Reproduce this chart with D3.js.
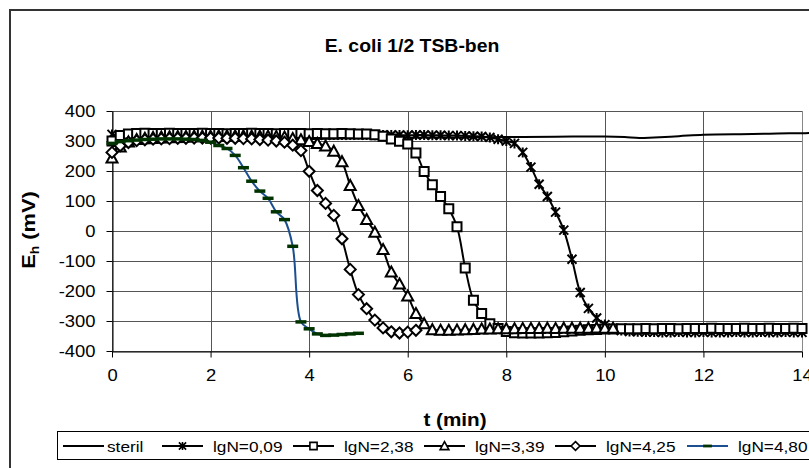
<!DOCTYPE html>
<html>
<head>
<meta charset="utf-8">
<script src="https://cdn.jsdelivr.net/npm/d3@7"></script>
<style>
body { margin: 0; background: #fff; }
text { font-family: "Liberation Sans", Arial, sans-serif; fill: #000; }
</style>
</head>
<body>
<script>

// sample times (seconds), one reading every 10 s
var tSec = [0,10,20,30,40,50,60,70,80,90,100,110,120,130,140,150,160,170,180,190,
	200,210,220,230,240,250,260,270,280,290,300,310,320,330,340,350,360,370,380,390,
	400,410,420,430,440,450,460,470,480,490,500,510,520,530,540,550,560,570,580,590,
	600,610,620,630,640,650,660,670,680,690,700,710,720,730,740,750,760,770,780,790,
	800,810,820,830,840];

// steril has no markers, read at fewer points (minutes)
var sterilT = [0, 0.5, 1, 1.5, 2, 3, 4, 5, 6, 7, 8, 9, 9.5, 10, 10.4, 10.7, 11, 11.5, 12, 13, 13.5, 14, 14.15];
var sterilV = [283, 290, 294, 297, 300, 304, 307, 309, 311, 312, 313, 314, 315, 315, 313, 310, 312, 316, 321, 323, 325, 326, 327];

var lgN009 = [322,318,320,321,320,319,320,321,320,320,
	319,320,321,320,320,319,320,320,321,320,
	320,319,320,320,321,320,319,320,320,320,
	321,320,319,320,320,320,319,320,320,319,
	319,318,318,317,316,315,312,306,300,292,
	262,213,156,115,63,3,-94,-205,-258,-290,
	-312,-325,-332,-335,-336,-337,-337,-338,-338,-337,
	-338,-338,-337,-338,-338,-338,-337,-338,-338,-337,
	-338,-338,-337,-338,-338];

var lgN238 = [300,318,323,325,326,325,325,326,325,325,
	325,326,325,325,324,325,325,326,325,325,
	324,325,325,325,324,325,324,324,325,324,
	323,323,321,316,307,299,290,260,198,154,
	115,74,14,-123,-231,-275,-309,-325,-335,-339,
	-340,-340,-340,-339,-338,-336,-333,-331,-329,-328,
	-327,-327,-326,-326,-326,-325,-326,-325,-325,-326,
	-325,-325,-325,-324,-325,-325,-325,-324,-325,-325,
	-324,-325,-325,-324,-325];

var lgN339 = [243,280,297,305,309,312,313,314,315,315,
	316,316,316,317,317,317,317,316,316,316,
	315,313,308,304,298,292,283,266,231,152,
	85,38,-4,-62,-137,-177,-217,-275,-309,-329,
	-331,-331,-330,-329,-328,-327,-327,-326,-326,-326,
	-325,-325,-325,-324,-325,-324,-324,-324,-324,-323,
	-324,-324];

var lgN425 = [262,284,295,301,304,306,307,308,309,309,
	310,310,310,310,309,309,308,307,305,303,
	300,296,286,268,199,135,92,52,-26,-128,
	-212,-259,-297,-323,-336,-340,-337,-331];

var lgN480 = [292,298,301,303,305,306,307,307,307,306,
	305,302,296,285,275,252,211,166,133,109,
	64,38,-51,-303,-326,-343,-348,-347,-345,-343,
	-341];

var seriesNames = ["lgN=0,09", "lgN=2,38", "lgN=3,39", "lgN=4,25", "lgN=4,80"];
var seriesValues = [lgN009, lgN238, lgN339, lgN425, lgN480];
var seriesMarker = ["star", "square", "triangle", "diamond", "dash"];

var xTicks = [0, 2, 4, 6, 8, 10, 12, 14];
var yTicks = [-400, -300, -200, -100, 0, 100, 200, 300, 400];

var w = 809;
var h = 468;
var sx = 1.15; // wide glyphs, as in the original

var svg = d3.select("body")
	.append("svg")
	.attr("width", w)
	.attr("height", h);

// chart frame
svg.append("rect")
	.attr("x", 10).attr("y", 10)
	.attr("width", 830).attr("height", 490)
	.attr("fill", "none")
	.attr("stroke", "#333")
	.attr("stroke-width", 2);

var x = d3.scaleLinear().domain([0, 14]).range([112, 802]);
var y = d3.scaleLinear().domain([-400, 400]).range([351, 111]);

// gridlines
svg.append("g")
	.selectAll("line")
	.data(yTicks)
	.enter()
	.append("line")
	.attr("x1", x(0)).attr("x2", x(14))
	.attr("y1", function(d) { return Math.round(y(d)) + 0.5; })
	.attr("y2", function(d) { return Math.round(y(d)) + 0.5; })
	.attr("stroke", "#555");

svg.append("g")
	.selectAll("line")
	.data(xTicks)
	.enter()
	.append("line")
	.attr("y1", y(400)).attr("y2", y(-400))
	.attr("x1", function(d) { return Math.round(x(d)) + 0.5; })
	.attr("x2", function(d) { return Math.round(x(d)) + 0.5; })
	.attr("stroke", function(d) { return d == 14 ? "#888" : "#555"; });

// axes
var yAxis = svg.append("g")
	.attr("transform", "translate(" + (Math.round(x(0)) + 0.5) + ",0)")
	.call(d3.axisLeft(y).tickValues(yTicks).tickSize(6).tickSizeOuter(0)
		.tickFormat(function(d) { return String(d); }));

yAxis.selectAll("text")
	.attr("x", -17 / sx)
	.attr("transform", "scale(" + sx + ",1)")
	.attr("font-size", "16px");

var xAxis = svg.append("g")
	.attr("transform", "translate(0," + (Math.round(y(-400)) + 0.5) + ")")
	.call(d3.axisBottom(x).tickValues(xTicks).tickSize(6).tickSizeOuter(0).tickPadding(12));

xAxis.selectAll("text")
	.attr("transform", "scale(" + sx + ",1)")
	.attr("font-size", "16px");

svg.selectAll(".domain, .tick line").attr("stroke", "#000");

// lines
var line = d3.line()
	.defined(function(d) { return d[1] != null; })
	.x(function(d) { return x(d[0]); })
	.y(function(d) { return y(d[1]); })
	.curve(d3.curveCatmullRom);

var markerPaths = {
	star: "M-4.5,-4.5L4.5,4.5M-4.5,4.5L4.5,-4.5M0,-5L0,5",
	square: "M-4.5,-4.5H4.5V4.5H-4.5Z",
	triangle: "M0,-5.5L5.5,4.5H-5.5Z",
	diamond: "M0,-5.5L5.5,0L0,5.5L-5.5,0Z",
	dash: "M-5.5,0H5.5"
};

function drawMarker(g, type) {
	if (type == "dash") {
		g.append("path").attr("d", markerPaths.dash)
			.attr("stroke", "#003300").attr("stroke-width", 3.5);
	} else {
		g.append("path").attr("d", markerPaths[type])
			.attr("fill", type == "star" ? "none" : "#fff")
			.attr("stroke", "#000")
			.attr("stroke-width", 2);
	}
}

var sterilPts = sterilT.map(function(t, i) { return [t, sterilV[i]]; });

svg.append("path")
	.datum(sterilPts)
	.attr("d", line)
	.attr("fill", "none")
	.attr("stroke", "#000")
	.attr("stroke-width", 2);

seriesValues.forEach(function(vals, s) {
	var pts = vals.map(function(v, i) { return [tSec[i] / 60, v]; });
	var isGreen = seriesMarker[s] == "dash";

	svg.append("path")
		.datum(pts)
		.attr("d", line)
		.attr("fill", "none")
		.attr("stroke", isGreen ? "#1b4f8f" : "#000")
		.attr("stroke-width", 2);

	var mg = svg.append("g");
	mg.selectAll("g")
		.data(pts)
		.enter()
		.append("g")
		.attr("transform", function(d) { return "translate(" + x(d[0]) + "," + y(d[1]) + ")"; })
		.each(function() { drawMarker(d3.select(this), seriesMarker[s]); });
});

// title
svg.append("text")
	.attr("transform", "translate(412,52) scale(1.05,1)")
	.attr("text-anchor", "middle")
	.attr("font-size", "18.5px")
	.attr("font-weight", "bold")
	.text("E. coli 1/2 TSB-ben");

// axis titles
svg.append("text")
	.attr("transform", "translate(455,426) scale(" + sx + ",1)")
	.attr("text-anchor", "middle")
	.attr("font-size", "18px")
	.attr("font-weight", "bold")
	.text("t (min)");

var yt = svg.append("text")
	.attr("transform", "translate(35,230) rotate(-90) scale(" + sx + ",1)")
	.attr("text-anchor", "middle")
	.attr("font-size", "19px")
	.attr("font-weight", "bold");
yt.append("tspan").text("E");
yt.append("tspan").attr("font-size", "12px").attr("dy", 4).text("h");
yt.append("tspan").attr("dy", -4).text(" (mV)");

// legend
svg.append("rect")
	.attr("x", 57.5).attr("y", 431.5)
	.attr("width", 800).attr("height", 28)
	.attr("fill", "#fff")
	.attr("stroke", "#000");

var legNames = ["steril"].concat(seriesNames);
var legMarker = ["none"].concat(seriesMarker);
var legX = [63, 162, 293, 424, 555, 687];

legNames.forEach(function(name, i) {
	var g = svg.append("g").attr("transform", "translate(" + legX[i] + ",446)");
	g.append("line")
		.attr("x1", 0).attr("x2", 41)
		.attr("stroke", legMarker[i] == "dash" ? "#1b4f8f" : "#000")
		.attr("stroke-width", 2);
	if (legMarker[i] != "none") {
		var mg = g.append("g").attr("transform", "translate(20.5,0) scale(0.8)");
		drawMarker(mg, legMarker[i]);
	}
	g.append("text")
		.attr("transform", "translate(" + (i == 0 ? 44 : 51) + ",5.5) scale(" + sx + ",1)")
		.attr("font-size", "15px")
		.text(name);
});

</script>
</body>
</html>
